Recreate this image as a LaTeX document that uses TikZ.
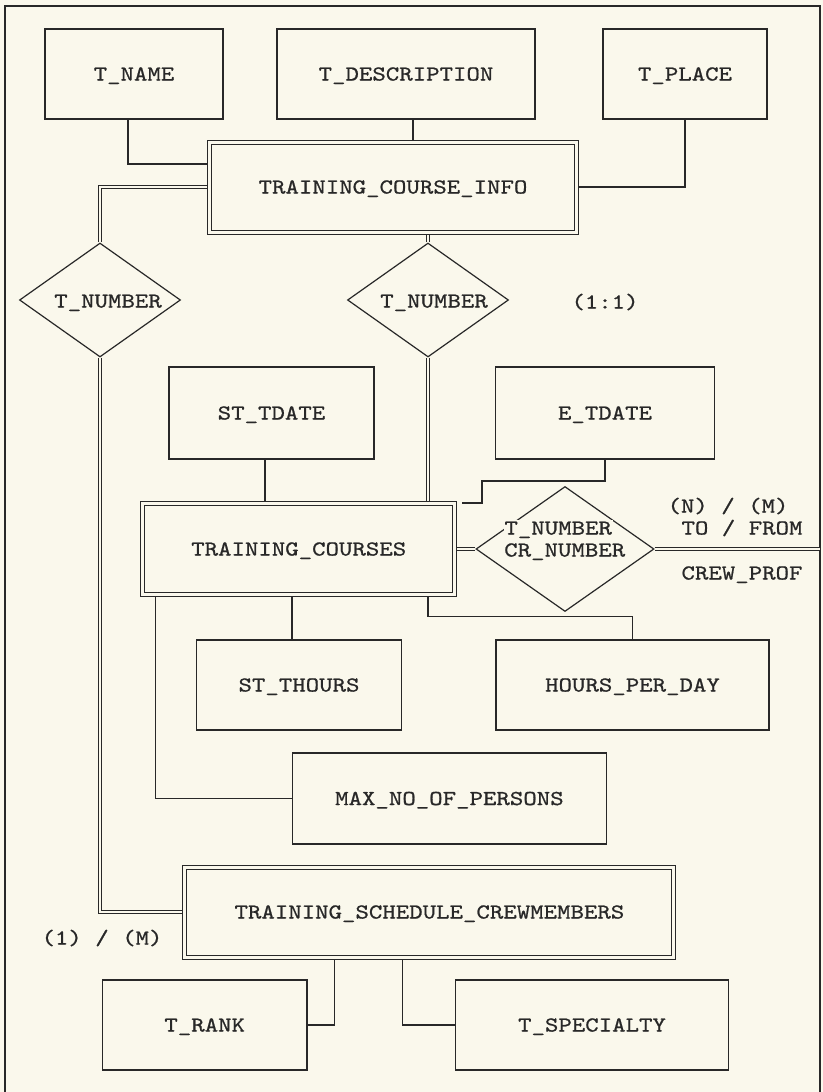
\documentclass[tikz,border=0pt]{standalone}
\usepackage{fontspec}
\newfontfamily\diagfont{lmmono10-regular.otf}[FakeStretch=1.2,FakeBold=0.8]
\usetikzlibrary{shapes.geometric,calc}
\pgfdeclarelayer{background}
\pgfsetlayers{background,main}
\definecolor{paper}{RGB}{250,248,236}
\definecolor{ink}{RGB}{40,40,40}
\begin{document}
\begin{tikzpicture}[x=0.75pt,y=-0.75pt,
  font=\diagfont\fontsize{16}{16.5}\selectfont,
  every node/.style={text=ink},
  lbl/.style={inner sep=0pt,text height=9.8pt,text depth=0pt},
  attr/.style={rectangle,draw=ink,line width=0.9pt,fill=paper,inner sep=0pt,
    text height=9.8pt,text depth=0pt},
  entity/.style={rectangle,draw=ink,line width=0.75pt,double=paper,
    double distance=2.25pt,fill=paper,inner sep=0pt,text height=9.8pt,text depth=0pt},
  relship/.style={diamond,draw=ink,line width=0.9pt,fill=paper,inner sep=0pt},
  link/.style={draw=ink,line width=0.9pt},
  dlink/.style={draw=ink,line width=0.75pt,double=paper,double distance=1.5pt},
]
\useasboundingbox (0,0) rectangle (823,1092);

% attribute boxes and entity sets
\node[attr,minimum width=133.5pt,minimum height=67.5pt] (tname) at (134,74) {T\_NAME};
\node[attr,minimum width=193.5pt,minimum height=67.5pt] (tdesc) at (406,74) {T\_DESCRIPTION};
\node[attr,minimum width=123pt,minimum height=67.5pt] (tplace) at (685,74) {T\_PLACE};
\node[entity,minimum width=275.25pt,minimum height=67.5pt] (tci) at (393,187) {TRAINING\_COURSE\_INFO};

\node[relship,minimum width=120.75pt,minimum height=85.5pt] (d1) at (100,300) {};
\node[lbl] (d1t) at (108,301) {T\_NUMBER};
\node[relship,minimum width=120.75pt,minimum height=85.5pt] (d2) at (428,300) {};
\node[lbl] (d2t) at (434,301) {T\_NUMBER};
\node[lbl] (card11) at (605,302) {(1:1)};

\node[attr,minimum width=153.75pt,minimum height=69pt] (sttdate) at (271.5,413) {ST\_TDATE};
\node[attr,minimum width=163.9pt,minimum height=69pt] (etdate) at (605,413) {E\_TDATE};
\node[entity,minimum width=233.6pt,minimum height=68.25pt] (tc) at (298.7,549) {TRAINING\_COURSES};

\node[relship,minimum width=133.5pt,minimum height=93.75pt] (d3) at (565,549) {};
\node[lbl,anchor=west,fill=paper,inner xsep=0.5pt,inner ysep=1pt] (d3a) at (503.5,528) {T\_NUMBER};
\node[lbl,anchor=west] (d3b) at (504,550) {CR\_NUMBER};
\node[lbl] (cardnm) at (728,506) {(N) / (M)};
\node[lbl] (tofrom) at (742,528) {TO / FROM};
\node[lbl] (crewlbl) at (742,573) {CREW\_PROF};
\coordinate (crew) at (820,549);

\node[attr,minimum width=153.75pt,minimum height=67.5pt] (stthours) at (299,685) {ST\_THOURS};
\node[attr,minimum width=204.75pt,minimum height=67.5pt] (hpd) at (632.5,685) {HOURS\_PER\_DAY};
\node[attr,minimum width=235.5pt,minimum height=68.25pt] (maxp) at (449.4,798.5) {MAX\_NO\_OF\_PERSONS};

\node[entity,minimum width=366.75pt,minimum height=67.5pt] (tsc) at (429.4,912) {TRAINING\_SCHEDULE\_CREWMEMBERS};
\node[lbl] (card1m) at (102,938) {(1) / (M)};

\node[attr,minimum width=153.45pt,minimum height=67.5pt] (trank) at (204.7,1025) {T\_RANK};
\node[attr,minimum width=204.75pt,minimum height=67.5pt] (tspec) at (592,1025) {T\_SPECIALTY};

% connector bends
\coordinate (tdx) at ([shift={(7,0)}]tdesc.south);
\coordinate (stdx) at ([shift={(-6.5,0)}]sttdate.south);
\coordinate (sthx) at ([shift={(-7,0)}]stthours.north);
\coordinate (ejog) at (482,481);
\coordinate (eend) at (462,503);

\begin{pgfonlayer}{background}
  \fill[paper] (0,0) rectangle (823,1092);
  \draw[link] (5,1092) -- (5,6) -- (820,6) -- (820,1092);

  % attribute links
  \draw[link] ([shift={(-6,0)}]tname.south) |- ([shift={(0,-23)}]tci.west);
  \draw[link] (tdx) -- (tdx |- tci.north);
  \draw[link] (tplace.south) |- (tci.east);
  \draw[link] (stdx) -- (stdx |- tc.north);
  \draw[link] (etdate.south) |- (ejog) |- (eend);
  \draw[link] (sthx |- tc.south) -- (sthx);
  \draw[link] (d2.south |- tc.south) |- ([shift={(0,-23)}]hpd.north) -- (hpd.north);
  \draw[link] ([shift={(13,0)}]tc.south west) |- (maxp.west);
  \draw[link] ([shift={(-95,0)}]tsc.south) |- (trank.east);
  \draw[link] ([shift={(-27,0)}]tsc.south) |- (tspec.west);

  % relationship links
  \draw[dlink] (tci.west) -| (d1.north);
  \draw[dlink] (d1.south) |- (tsc.west);
  \draw[dlink] (d2.north |- tci.south) -- (d2.north);
  \draw[dlink] (d2.south) -- (d2.south |- tc.north);
  \draw[dlink] (tc.east) -- (d3.west);
  \draw[dlink] (d3.east) -- (crew);
\end{pgfonlayer}
\end{tikzpicture}
\end{document}
